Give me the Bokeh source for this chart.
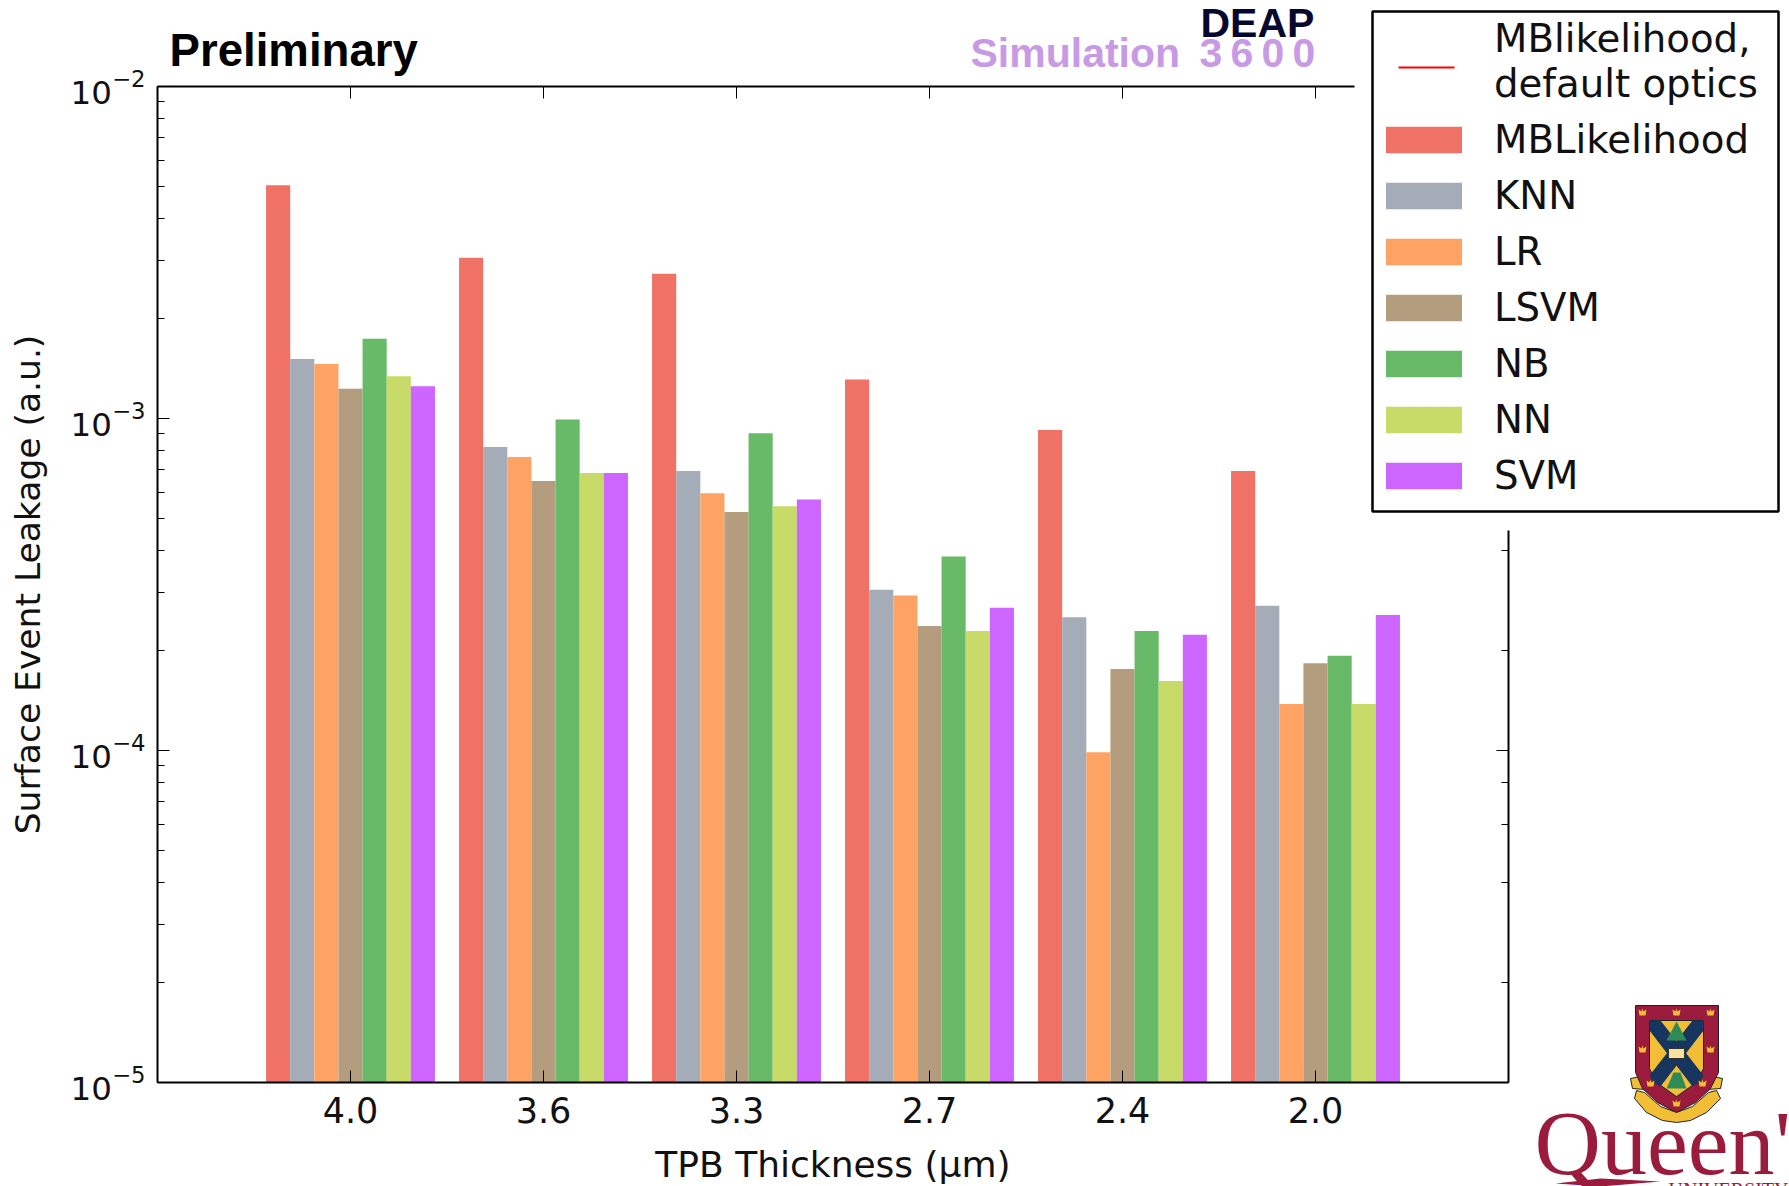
from bokeh.plotting import figure
from bokeh.models import (Range1d, LogAxis, LinearAxis, FixedTicker, LogTicker, LogTickFormatter,
                          Legend, LegendItem, Label, PolyAnnotation)
from bokeh.embed import file_html
from bokeh.resources import INLINE

thickness = ["4.0", "3.6", "3.3", "2.7", "2.4", "2.0"]
mblikelihood = [5.04e-3, 3.05e-3, 2.73e-3, 1.31e-3, 9.23e-4, 6.95e-4]
knn = [1.51e-3, 8.2e-4, 6.95e-4, 3.05e-4, 2.52e-4, 2.73e-4]
lr = [1.46e-3, 7.66e-4, 5.95e-4, 2.93e-4, 9.88e-5, 1.38e-4]
lsvm = [1.23e-3, 6.48e-4, 5.23e-4, 2.37e-4, 1.76e-4, 1.83e-4]
nb = [1.74e-3, 9.93e-4, 9.02e-4, 3.84e-4, 2.29e-4, 1.93e-4]
nn = [1.34e-3, 6.85e-4, 5.44e-4, 2.29e-4, 1.62e-4, 1.38e-4]
svm = [1.25e-3, 6.85e-4, 5.7e-4, 2.69e-4, 2.23e-4, 2.56e-4]
names = ["MBLikelihood", "KNN", "LR", "LSVM", "NB", "NN", "SVM"]
series = [mblikelihood, knn, lr, lsvm, nb, nn, svm]
colors = ["#F07266", "#A3ACB7", "#FFA364", "#B49C7E", "#68BA68", "#C8DB68", "#CC66FF"]
default_optics_label = "MBlikelihood,\ndefault optics"

W, H = 1789, 1186
FL, FR, FT, FB = 157, 1508, 86, 1082   # axes box in page pixels


def X(px):
    return -1 + 7 * (px - FL) / (FR - FL)


def Y(py):
    return 10 ** (-2 - 3 * (py - FT) / (FB - FT))


# the frame fills the canvas so that the crest, the header and the legend may lie outside the axes box
p = figure(width=W, height=H, output_backend="svg", toolbar_location=None,
           x_range=Range1d(X(0), X(W)), y_range=Range1d(Y(H), Y(0)), y_axis_type="log",
           min_border=0, background_fill_color="white", border_fill_color="white")
p.grid.visible = False
p.outline_line_color = None


def style(ax):
    ax.axis_line_color = "black"
    ax.axis_line_width = 2
    ax.major_tick_line_color = "black"
    ax.minor_tick_line_color = "black"
    ax.major_tick_line_width = 1
    ax.major_tick_in = 12
    ax.major_tick_out = 0
    ax.minor_tick_in = 7
    ax.minor_tick_out = 0


width = 0.125
bar_renderers = []
for i, (vals, col) in enumerate(zip(series, colors)):
    xs = [k - 0.4375 + width * (i + 0.5) for k in range(len(thickness))]
    r = p.vbar(x=xs, top=vals, bottom=1e-5, width=width, fill_color=col, line_color=None)
    bar_renderers.append(r)
# the default-optics series has no point on the chart: only its legend entry shows
line_r = p.line(x=[float("nan")], y=[float("nan")], line_color="#FF0000", line_width=2, line_alpha=0)

xax = p.xaxis[0]
style(xax)
xax.fixed_location = 1e-5
xax.bounds = (-1, 6)
xax.ticker = FixedTicker(ticks=list(range(len(thickness))))
xax.major_label_overrides = {k: t for k, t in enumerate(thickness)}
xax.major_label_text_font = "DejaVu Sans"
xax.major_label_text_font_size = "35px"
xax.major_label_text_color = "#111111"
xax.major_label_standoff = 14
xax.minor_tick_in = 0
xax.axis_label = "TPB Thickness (μm)"
xax.axis_label_text_font = "DejaVu Sans"
xax.axis_label_text_font_style = "normal"
xax.axis_label_text_font_size = "36px"
xax.axis_label_text_color = "#111111"
xax.axis_label_standoff = 18

yax = p.yaxis[0]
style(yax)
yax.fixed_location = -1
yax.bounds = (1e-5, 1e-2)
yax.formatter = LogTickFormatter()
yax.major_label_text_font = "DejaVu Sans"
yax.major_label_text_font_size = "32.5px"
yax.major_label_text_color = "#111111"
yax.major_label_standoff = 12
yax.axis_label = "Surface Event Leakage (a.u.)"
yax.axis_label_text_font = "DejaVu Sans"
yax.axis_label_text_font_style = "normal"
yax.axis_label_text_font_size = "34.5px"
yax.axis_label_text_color = "#111111"
yax.axis_label_standoff = 20

top = LinearAxis(ticker=FixedTicker(ticks=list(range(len(thickness)))), fixed_location=1e-2, bounds=(-1, 6),
                 major_label_text_font_size="0px", major_label_text_color=None)
style(top)
top.minor_tick_in = 0
p.add_layout(top, "above")
right = LogAxis(ticker=LogTicker(), fixed_location=6, bounds=(1e-5, 1e-2),
                major_label_text_font_size="0px", major_label_text_color=None)
style(right)
p.add_layout(right, "right")


def poly(points, fill, line=None, lw=1):
    p.add_layout(PolyAnnotation(xs=[X(a) for a, b in points], ys=[Y(b) for a, b in points],
                                fill_color=fill, fill_alpha=1, line_color=line, line_width=lw,
                                line_alpha=1))


def text(s, px, py, size, color, style_="bold", font="Liberation Sans"):
    # a Label's alphabetic anchor sits about 0.39 em above the baseline that it draws
    py = py - 0.39 * size
    p.add_layout(Label(x=X(px), y=Y(py), text=s, text_font=font, text_font_size=f"{size}px",
                       text_color=color, text_font_style=style_, text_baseline="alphabetic"))


# white gaps that the pasted legend leaves in the spines
poly([(1354, 78), (1372, 78), (1372, 96), (1354, 96)], "white", None)
poly([(1372, 78), (1515, 78), (1515, 530), (1372, 530)], "white", None)

text("Preliminary", 169, 68, 45.6, "#000000")
text("DEAP", 1200, 38, 41, "#08082E")
text("Simulation", 970, 68, 41, "#C89AE6")
text("3\u20096\u20090\u20090", 1199, 68, 41, "#C89AE6")

# Queen's crest
MAROON, GOLD, NAVY, GREEN = "#9B1B3C", "#F2BE35", "#17365F", "#2E8B57"
poly([(1630, 1078), (1640, 1076), (1645, 1089), (1632, 1088)], GOLD, "#222222")
poly([(1722, 1078), (1712, 1076), (1707, 1089), (1720, 1088)], GOLD, "#222222")
poly([(1635, 1005), (1718, 1005), (1718, 1072), (1710, 1088), (1695, 1102), (1676, 1112),
      (1657, 1102), (1642, 1088), (1635, 1072)], MAROON, "#222222")
poly([(1649, 1020), (1703, 1020), (1703, 1068), (1696, 1082), (1676, 1096), (1656, 1082),
      (1649, 1068)], GOLD, "#222222")
poly([(1649, 1020), (1660, 1020), (1703, 1075), (1699, 1082), (1692, 1086), (1649, 1030)], NAVY)
poly([(1703, 1020), (1692, 1020), (1649, 1075), (1653, 1082), (1660, 1086), (1703, 1030)], NAVY)
poly([(1676, 1021), (1686, 1040), (1666, 1040)], GREEN)
poly([(1668, 1048), (1684, 1048), (1684, 1058), (1668, 1058)], "#F5E3A0", "#333333")
poly([(1673, 1072), (1680, 1072), (1686, 1088), (1666, 1088)], GREEN)
for cx, cy in [(1642, 1012), (1676, 1012), (1710, 1012), (1642, 1049), (1710, 1049), (1650, 1083),
               (1702, 1083), (1676, 1103)]:
    poly([(cx - 4, cy - 3), (cx - 1, cy - 1), (cx, cy - 4), (cx + 1, cy - 1), (cx + 4, cy - 3), (cx + 3, cy + 3),
          (cx - 3, cy + 3)], GOLD)
poly([(1636, 1090), (1644, 1092), (1660, 1106), (1676, 1112), (1692, 1106), (1708, 1092), (1716, 1090),
      (1720, 1098), (1706, 1112), (1690, 1120), (1676, 1122), (1662, 1120), (1646, 1112), (1634, 1098)],
     GOLD, "#222222")
text("Queen's", 1534, 1178, 92, MAROON, "normal", "Liberation Serif")
poly([(1555, 1183), (1600, 1178), (1660, 1181), (1600, 1186)], MAROON)
text("UNIVERSITY", 1668, 1197, 20, MAROON, "normal", "Liberation Serif")

# legend box
poly([(1372, 11), (1778, 11), (1778, 511), (1372, 511)], "white", "black", 2.5)
items = [LegendItem(label=default_optics_label, renderers=[line_r])]
items += [LegendItem(label=n, renderers=[r]) for n, r in zip(names, bar_renderers)]
legend = Legend(items=items, location=(1376, H - 497.5), orientation="vertical",
                glyph_width=95, glyph_height=33, label_standoff=23, spacing=11,
                padding=0, margin=0, border_line_color=None,
                background_fill_color=None, background_fill_alpha=0,
                label_text_font="DejaVu Sans", label_text_font_size="38.7px",
                label_text_color="#111111", label_height=44)
p.add_layout(legend, "center")
# the short red dash of the first legend entry
poly([(1398, 66), (1454, 66), (1454, 68), (1398, 68)], "#FF0000")

open("out.html", "w").write(file_html(p, INLINE))
